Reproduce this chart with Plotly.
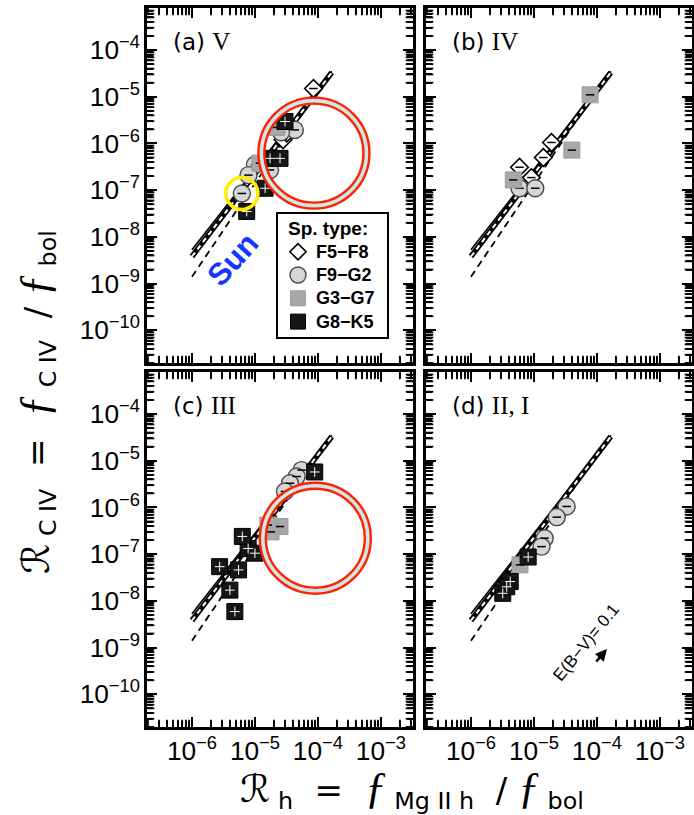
import math
import plotly.graph_objects as go

W, H = 694, 815

# ---------------- data ----------------
# Panel (a) luminosity class V
a_f5f8_x = [8.5e-5, 2.8e-5, 3.2e-5]
a_f5f8_y = [1.5e-5, 1.2e-6, 1.66e-6]
a_f9g2_x = [4.3e-5, 2.6e-5, 1.0e-5, 1.74e-5, 7.9e-6, 6.2e-6]
a_f9g2_y = [1.95e-6, 1.74e-6, 3.5e-7, 2.7e-7, 2.1e-7, 8.5e-8]
a_g3g7_x = [2.2e-5, 1.2e-5]
a_g3g7_y = [2.2e-6, 3.8e-7]
a_g8k5_x = [3.0e-5, 1.74e-5, 2.5e-5, 1.45e-5, 7.4e-6]
a_g8k5_y = [2.95e-6, 4.8e-7, 4.8e-7, 1.1e-7, 3.5e-8]

# Panel (b) luminosity class IV
b_f5f8_x = [1.9e-5, 1.41e-5, 5.9e-6, 9.1e-6]
b_f5f8_y = [1.05e-6, 5.0e-7, 3.1e-7, 1.86e-7]
b_f9g2_x = [5.9e-6, 1.05e-5]
b_f9g2_y = [1.1e-7, 1.1e-7]
b_g3g7_x = [7.8e-5, 4.0e-5, 4.7e-6]
b_g3g7_y = [1.1e-5, 7.2e-7, 1.66e-7]
b_g8k5_x = []
b_g8k5_y = []

# Panel (c) luminosity class III
c_f5f8_x = []
c_f5f8_y = []
c_f9g2_x = [5.5e-5, 4.6e-5, 3.6e-5, 3.0e-5]
c_f9g2_y = [6.3e-6, 4.6e-6, 3.3e-6, 2.2e-6]
c_g3g7_x = [2.5e-5, 1.6e-5, 1.8e-5]
c_g3g7_y = [3.9e-7, 4.2e-7, 3.0e-7]
c_g8k5_x = [8.9e-5, 7.8e-6, 1.0e-5, 2.75e-6, 5.5e-6, 4.0e-6, 4.8e-6, 6.3e-6]
c_g8k5_y = [5.75e-6, 1.32e-7, 1.05e-7, 5.4e-8, 4.6e-8, 1.7e-8, 5.9e-9, 2.4e-7]

# Panel (d) luminosity classes II, I
d_f5f8_x = []
d_f5f8_y = []
d_f9g2_x = [3.3e-5, 2.3e-5, 1.48e-5, 1.32e-5]
d_f9g2_y = [1.05e-6, 6.2e-7, 2.2e-7, 1.45e-7]
d_g3g7_x = [6.0e-6]
d_g3g7_y = [5.9e-8]
d_g8k5_x = [8.1e-6, 4.2e-6, 3.2e-6, 3.7e-6]
d_g8k5_y = [8.7e-8, 2.6e-8, 1.45e-8, 2.0e-8]

# power-law fit lines (same in every panel)
fit_x = [1.0e-6, 1.66e-4]
fit_solid_y = [5.3e-9, 3.5e-5]
fit_rail_y = [3.8e-9, 3.3e-5]
fit_dash_y = [1.4e-9, 3.8e-5]

types = ["F5−F8", "F9−G2", "G3−G7", "G8−K5"]
panel_names = ["(a)", "(b)", "(c)", "(d)"]
panel_classes = ["V", "IV", "III", "II, I"]
panel_data = [
    [(a_f5f8_x, a_f5f8_y), (a_f9g2_x, a_f9g2_y), (a_g3g7_x, a_g3g7_y), (a_g8k5_x, a_g8k5_y)],
    [(b_f5f8_x, b_f5f8_y), (b_f9g2_x, b_f9g2_y), (b_g3g7_x, b_g3g7_y), (b_g8k5_x, b_g8k5_y)],
    [(c_f5f8_x, c_f5f8_y), (c_f9g2_x, c_f9g2_y), (c_g3g7_x, c_g3g7_y), (c_g8k5_x, c_g8k5_y)],
    [(d_f5f8_x, d_f5f8_y), (d_f9g2_x, d_f9g2_y), (d_g3g7_x, d_g3g7_y), (d_g8k5_x, d_g8k5_y)],
]
# highlight rings (centres in data units)
sun_x, sun_y = [6.2e-6], [8.5e-8]
ring_a_x, ring_a_y = [8.65e-5], [6.2e-7]
ring_c_x, ring_c_y = [9.1e-5], [2.2e-7]

# ---------------- styles ----------------
styles = [
    dict(symbol="diamond", size=13.5, color="white", line=dict(color="black", width=1.6)),
    dict(symbol="circle", size=17, color="#d6d6d6", line=dict(color="#4a4a4a", width=1.4)),
    dict(symbol="square", size=16, color="#a8a8a8", line=dict(color="#9c9c9c", width=1)),
    dict(symbol="square", size=16, color="#161616", line=dict(color="#000000", width=1)),
]
center_marks = [
    dict(symbol="line-ew", size=6, color="black", line=dict(color="black", width=1.5)),
    dict(symbol="line-ew", size=6, color="black", line=dict(color="black", width=1.5)),
    dict(symbol="line-ew", size=6, color="black", line=dict(color="black", width=1.5)),
    dict(symbol="cross-thin", size=7, color="white", line=dict(color="white", width=1)),
]

# panel pixel boxes
col_px = [(147, 413), (426, 692)]
row_px = [(8, 363), (372, 727)]
XR = [-6.714, -2.49]
YR = [-10.70, -3.10]
x_pd = (col_px[0][1] - col_px[0][0]) / (XR[1] - XR[0])   # pixels per decade
y_pd = (row_px[0][1] - row_px[0][0]) / (YR[1] - YR[0])
MINOR_LEN = 6.0

# minor tick positions (2..9 x 10^n inside the ranges)
minor_x = [m * 10.0 ** e for e in range(-8, 0) for m in range(2, 10)
           if XR[0] < math.log10(m * 10.0 ** e) < XR[1]]
minor_y = [m * 10.0 ** e for e in range(-12, -1) for m in range(2, 10)
           if YR[0] < math.log10(m * 10.0 ** e) < YR[1]]

fig = go.Figure()

def ring_trace(xs, ys, xa, ya, size, color, width):
    fig.add_trace(go.Scatter(
        x=xs, y=ys, mode="markers", xaxis=xa, yaxis=ya, showlegend=False, hoverinfo="skip",
        cliponaxis=False,
        marker=dict(symbol="circle-open", size=size, color=color, line=dict(color=color, width=width)),
    ))

for i in range(4):
    xa = "x" if i == 0 else f"x{i+1}"
    ya = "y" if i == 0 else f"y{i+1}"
    # minor ticks, placed just inside each frame edge
    half = MINOR_LEN * 0.7 / 2 + 1.0
    yb = 10 ** (YR[0] + half / y_pd)
    yt = 10 ** (YR[1] - half / y_pd)
    xl = 10 ** (XR[0] + half / x_pd)
    xr = 10 ** (XR[1] - half / x_pd)
    fig.add_trace(go.Scatter(
        x=minor_x + minor_x, y=[yb] * len(minor_x) + [yt] * len(minor_x),
        mode="markers", xaxis=xa, yaxis=ya, showlegend=False, hoverinfo="skip", cliponaxis=False,
        marker=dict(symbol="line-ns-open", size=MINOR_LEN, color="black",
                    line=dict(color="black", width=1.8))))
    fig.add_trace(go.Scatter(
        x=[xl] * len(minor_y) + [xr] * len(minor_y), y=minor_y + minor_y,
        mode="markers", xaxis=xa, yaxis=ya, showlegend=False, hoverinfo="skip", cliponaxis=False,
        marker=dict(symbol="line-ew-open", size=MINOR_LEN, color="black",
                    line=dict(color="black", width=1.8))))
    # fit lines
    fig.add_trace(go.Scatter(x=fit_x, y=fit_dash_y, mode="lines", xaxis=xa, yaxis=ya,
                             line=dict(color="black", width=1.8, dash="7px,5px"),
                             showlegend=False, hoverinfo="skip"))
    fig.add_trace(go.Scatter(x=fit_x, y=fit_solid_y, mode="lines", xaxis=xa, yaxis=ya,
                             line=dict(color="black", width=1.6),
                             showlegend=False, hoverinfo="skip"))
    fig.add_trace(go.Scatter(x=fit_x, y=fit_rail_y, mode="lines", xaxis=xa, yaxis=ya,
                             line=dict(color="black", width=5.5),
                             showlegend=False, hoverinfo="skip"))
    fig.add_trace(go.Scatter(x=fit_x, y=fit_rail_y, mode="lines", xaxis=xa, yaxis=ya,
                             line=dict(color="white", width=2, dash="5px,4px"),
                             showlegend=False, hoverinfo="skip"))
    for k, (xs, ys) in enumerate(panel_data[i]):
        if not xs:
            continue
        st = styles[k]
        fig.add_trace(go.Scatter(
            x=xs, y=ys, mode="markers", xaxis=xa, yaxis=ya, name=types[k], showlegend=False,
            marker=dict(symbol=st["symbol"], size=st["size"], color=st["color"], line=st["line"]),
        ))
        cm = center_marks[k]
        fig.add_trace(go.Scatter(
            x=xs, y=ys, mode="markers", xaxis=xa, yaxis=ya, showlegend=False, hoverinfo="skip",
            marker=dict(symbol=cm["symbol"], size=cm["size"], color=cm["color"], line=cm["line"]),
        ))

# overlaid highlight rings
for (rx, ry, xa, ya) in [(ring_a_x, ring_a_y, "x", "y"), (ring_c_x, ring_c_y, "x3", "y3")]:
    ring_trace(rx, ry, xa, ya, 105, "#cde6e6", 4.5)
    ring_trace(rx, ry, xa, ya, 111, "#ff2200", 2.4)
    ring_trace(rx, ry, xa, ya, 99, "#ff2200", 2.4)
ring_trace(sun_x, sun_y, "x", "y", 32, "#ffee00", 3.6)

# ---------------- axes ----------------
tickfont = dict(family="Liberation Sans", size=21, color="black")
native_minor = dict(ticks="inside", ticklen=6, tickwidth=1.8, tickcolor="black", dtick="D1")
for i in range(4):
    r, c = divmod(i, 2)
    sfx = "" if i == 0 else str(i + 1)
    x0, x1 = col_px[c]
    y0, y1 = row_px[r]
    fig.layout["xaxis" + sfx] = dict(
        type="log", range=XR, domain=[x0 / W, x1 / W],
        anchor="y" + sfx, showline=True, linecolor="black", linewidth=2.6, mirror="ticks",
        ticks="inside", ticklen=10, tickwidth=2.2, tickcolor="black", dtick=1,
        exponentformat="power", showticklabels=(r == 1), tickfont=tickfont,
        showgrid=False, zeroline=False, automargin=False, minor=native_minor,
    )
    fig.layout["yaxis" + sfx] = dict(
        type="log", range=YR, domain=[1 - y1 / H, 1 - y0 / H],
        anchor="x" + sfx, showline=True, linecolor="black", linewidth=2.6, mirror="ticks",
        ticks="inside", ticklen=10, tickwidth=2.2, tickcolor="black", dtick=1,
        exponentformat="power", showticklabels=(c == 0), tickfont=tickfont,
        showgrid=False, zeroline=False, automargin=False, minor=native_minor,
    )

# ---------------- legend (drawn in pixel space inside panel a) ----------------
fig.layout["xaxis9"] = dict(domain=[0, 1], range=[0, W], visible=False, anchor="y9", fixedrange=True)
fig.layout["yaxis9"] = dict(domain=[0, 1], range=[H, 0], visible=False, anchor="x9", fixedrange=True)
leg_left, leg_top, leg_right, leg_bottom = 277, 213, 388, 338
leg_row0, leg_step = 251.7, 23.3
for k in range(4):
    st = styles[k]
    yk = leg_row0 + k * leg_step
    fig.add_trace(go.Scatter(
        x=[leg_left + 21], y=[yk], xaxis="x9", yaxis="y9", mode="markers",
        showlegend=False, hoverinfo="skip", cliponaxis=False,
        marker=dict(symbol=st["symbol"], size=st["size"] - 1, color=st["color"], line=st["line"]),
    ))

# ---------------- annotations ----------------
ann = []
for i in range(4):
    r, c = divmod(i, 2)
    ann.append(dict(
        xref="paper", yref="paper", x=(col_px[c][0] + 24) / W, y=1 - (row_px[r][0] + 33) / H,
        xanchor="left", yanchor="middle", showarrow=False,
        text=panel_names[i] + ' <span style="font-family:Liberation Serif;font-size:25px">' + panel_classes[i] + "</span>",
        font=dict(family="DejaVu Sans", size=23, color="black"),
    ))

legfont = dict(family="Liberation Sans", size=18, color="black", weight="bold")
ann.append(dict(xref="paper", yref="paper", x=(leg_left + 9) / W, y=1 - 229 / H,
                xanchor="left", yanchor="middle", showarrow=False, text="Sp. type:",
                font=dict(family="Liberation Sans", size=19, color="black", weight="bold")))
for k in range(4):
    ann.append(dict(xref="paper", yref="paper", x=(leg_left + 37) / W,
                    y=1 - (leg_row0 + k * leg_step) / H,
                    xanchor="left", yanchor="middle", showarrow=False, text=types[k], font=legfont))

F = '<span style="font-family:Liberation Serif;font-style:italic;font-size:44px">ƒ</span>'
R = '<span style="font-size:38px">ℛ</span>'
ann.append(dict(
    xref="paper", yref="paper", x=412 / W, y=1 - 789 / H, xanchor="center", yanchor="middle",
    showarrow=False,
    text=R + "<sub> h</sub>  =  " + F + "<sub> Mg II h</sub>  / " + F + "<sub> bol</sub>",
    font=dict(family="DejaVu Sans", size=34, color="black"),
))
ann.append(dict(
    xref="paper", yref="paper", x=36 / W, y=1 - 402 / H, xanchor="center", yanchor="middle",
    showarrow=False, textangle=-90,
    text=R + "<sub> C IV</sub>  =  " + F + "<sub> C IV</sub>  / " + F + "<sub> bol</sub>",
    font=dict(family="DejaVu Sans", size=34, color="black"),
))
ann.append(dict(
    xref="paper", yref="paper", x=233 / W, y=1 - 260 / H, xanchor="center", yanchor="middle",
    showarrow=False, textangle=-48, text="<b>Sun</b>",
    font=dict(family="Liberation Sans", size=31, color="#1437ff"),
))
ann.append(dict(
    xref="paper", yref="paper", x=586 / W, y=1 - 642 / H, xanchor="center", yanchor="middle",
    showarrow=False, textangle=-51, text="E(B−V)= 0.1",
    font=dict(family="Liberation Sans", size=17, color="black"),
))
ann.append(dict(
    xref="paper", yref="paper", axref="pixel", ayref="pixel",
    x=607 / W, y=1 - 649 / H, ax=-12, ay=14, text="", showarrow=True,
    arrowhead=2, arrowsize=0.9, arrowwidth=2.6, arrowcolor="black",
))

shapes = [dict(type="rect", xref="paper", yref="paper",
               x0=leg_left / W, x1=leg_right / W, y0=1 - leg_bottom / H, y1=1 - leg_top / H,
               line=dict(color="black", width=2), fillcolor="rgba(0,0,0,0)", layer="above")]

fig.update_layout(
    width=W, height=H, margin=dict(l=0, r=0, t=0, b=0),
    paper_bgcolor="white", plot_bgcolor="rgba(0,0,0,0)",
    annotations=ann, shapes=shapes, showlegend=False,
)

fig.write_html("out.html")
